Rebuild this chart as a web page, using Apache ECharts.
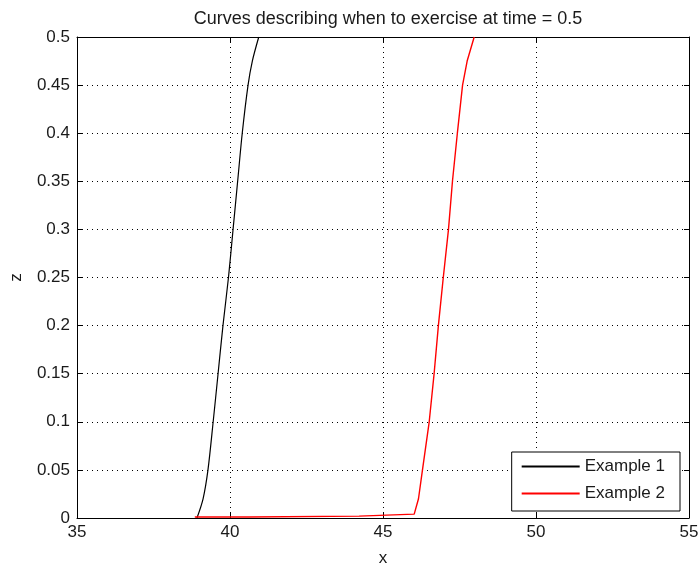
<!DOCTYPE html>
<html>
<head>
<meta charset="utf-8">
<script src="https://cdn.jsdelivr.net/npm/echarts@6/dist/echarts.min.js"></script>
<style>
	html, body { margin: 0; padding: 0; background: #fff; }
	#main { width: 698px; height: 567px; }
</style>
</head>
<body>
<div id="main"></div>
<script>
	// data
	const ex1X = [38.92, 39.12, 39.28, 39.45, 39.61, 39.77, 39.95, 40.10, 40.25, 40.40, 40.59, 40.73, 40.94]
	const ex1Z = [0, 0.02, 0.05, 0.10, 0.15, 0.20, 0.25, 0.30, 0.35, 0.40, 0.45, 0.475, 0.5]
	const ex2X = [38.85, 40.62, 40.66, 44.22, 44.26, 46.02, 46.16, 46.29, 46.51, 46.67, 46.81, 46.97, 47.14, 47.27, 47.43, 47.60, 47.75, 47.98]
	const ex2Z = [0.001, 0.001, 0.002, 0.002, 0.004, 0.004, 0.02, 0.05, 0.10, 0.15, 0.20, 0.25, 0.30, 0.35, 0.40, 0.45, 0.475, 0.5]
	const xTicks = [35, 40, 45, 50, 55]
	const zTicks = [0, 0.05, 0.1, 0.15, 0.2, 0.25, 0.3, 0.35, 0.4, 0.45, 0.5]

	const font = 'Liberation Sans, Arial, sans-serif'
	const pairs = (xs, ys) => xs.map((x, i) => [x, ys[i]])

	const chart = echarts.init(document.getElementById('main'))

	const baseX = {
		type: 'value',
		min: xTicks[0],
		max: xTicks[xTicks.length - 1],
		interval: 5,
		axisLine: { show: true, onZero: false, lineStyle: { color: '#000', width: 1 } },
		axisTick: { show: true, inside: true, length: 5, lineStyle: { color: '#000' } },
		splitLine: { show: false }
	}
	const baseY = {
		type: 'value',
		min: zTicks[0],
		max: zTicks[zTicks.length - 1],
		interval: 0.05,
		axisLine: { show: true, onZero: false, lineStyle: { color: '#000', width: 1 } },
		axisTick: { show: true, inside: true, length: 5, lineStyle: { color: '#000' } },
		splitLine: { show: false }
	}

	const option = {
		animation: false,
		backgroundColor: '#fff',
		title: {
			text: 'Curves describing when to exercise at time = 0.5',
			left: 383,
			textAlign: 'center',
			top: 5,
			textStyle: { fontFamily: font, fontSize: 18, fontWeight: 'normal', color: '#1a1a1a' }
		},
		grid: { left: 77, right: 9, top: 37, bottom: 49, containLabel: false, outerBoundsMode: 'none' },
		legend: {
			right: 18,
			bottom: 56,
			orient: 'vertical',
			itemWidth: 58,
			itemHeight: 2,
			itemGap: 10,
			padding: [6, 15, 9, 10],
			borderColor: '#000',
			borderWidth: 1,
			backgroundColor: '#fff',
			icon: 'rect',
			textStyle: { fontFamily: font, fontSize: 17, color: '#1a1a1a' },
			data: ['Example 1', 'Example 2']
		},
		xAxis: [
			Object.assign({}, baseX, {
				position: 'bottom',
				name: 'x',
				nameLocation: 'middle',
				nameGap: 32,
				nameTextStyle: { fontFamily: font, fontSize: 17, color: '#1a1a1a' },
				axisLabel: { fontFamily: font, fontSize: 17, color: '#1a1a1a', margin: 6 },
				splitLine: { show: true, lineStyle: { color: '#000', type: [1, 4], width: 1 } }
			}),
			Object.assign({}, baseX, { position: 'top', axisLabel: { show: false } })
		],
		yAxis: [
			Object.assign({}, baseY, {
				position: 'left',
				name: 'z',
				nameLocation: 'middle',
				nameGap: 52,
				nameTextStyle: { fontFamily: font, fontSize: 17, color: '#1a1a1a' },
				axisLabel: { fontFamily: font, fontSize: 17, color: '#1a1a1a', margin: 7 },
				splitLine: { show: true, lineStyle: { color: '#000', type: [1, 4], width: 1 } }
			}),
			Object.assign({}, baseY, { position: 'right', axisLabel: { show: false } })
		],
		series: [
			{
				name: 'Example 1',
				type: 'line',
				data: pairs(ex1X, ex1Z),
				showSymbol: false,
				smooth: 0.3,
				color: '#000',
				lineStyle: { color: '#000', width: 1.2 }
			},
			{
				name: 'Example 2',
				type: 'line',
				data: pairs(ex2X, ex2Z),
				showSymbol: false,
				color: '#ff0000',
				lineStyle: { color: '#ff0000', width: 1.4 }
			}
		]
	}

	chart.setOption(option)
</script>
</body>
</html>
